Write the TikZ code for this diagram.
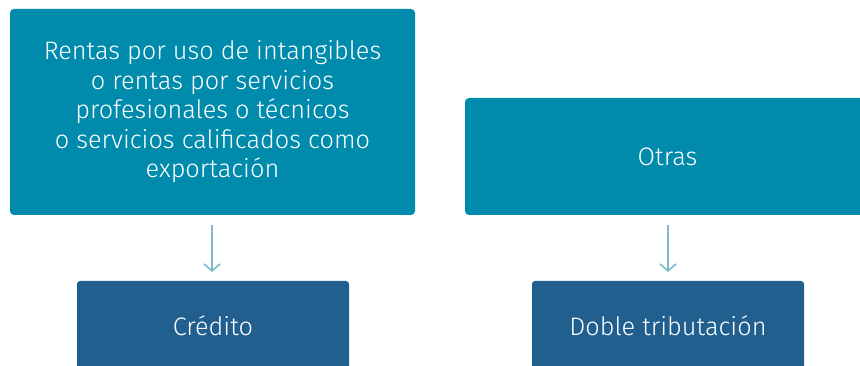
\documentclass[tikz,border=0pt]{standalone}
\usepackage{fontspec}
\setmainfont{Fira Sans Light}
\usetikzlibrary{arrows.meta, positioning}
\definecolor{tealbox}{RGB}{0,139,173}
\definecolor{bluebox}{RGB}{33,95,143}
\definecolor{arrowblue}{RGB}{125,184,204}
\tikzstyle{upper} = [fill=tealbox, text=white, rounded corners=4pt, align=center, inner sep=0pt, font=\fontsize{25.3}{29.5}\selectfont]
\tikzstyle{lower} = [fill=bluebox, text=white, rounded corners=3pt, align=center, inner sep=0pt, font=\fontsize{25.3}{29.5}\selectfont]
\tikzstyle{arrow} = [arrowblue, line width=1.6pt, -{Straight Barb[length=7pt,width=16pt]}]

\begin{document}
\begin{tikzpicture}[x=1pt, y=-1pt]
\useasboundingbox (0,0) rectangle (860,366);
\node[upper, minimum width=405pt, minimum height=206pt] (rentas) at (212.5,112)
  {Rentas por uso de intangibles\\o rentas por servicios\\profesionales o técnicos\\o servicios calificados como\\exportación};
\node[upper, minimum width=405pt, minimum height=117pt] (otras) at (667.5,156.5) {Otras};

\node[lower, minimum width=272pt, minimum height=90pt] (credito) at (213,326) {Crédito};
\node[lower, minimum width=272pt, minimum height=90pt] (doble) at (668,326) {Doble tributación};

\coordinate (a1) at (212,225);
\coordinate (a2) at (212,272);
\coordinate (b1) at (668,225);
\coordinate (b2) at (668,272);
\draw[arrow] (a1) -- (a2);
\draw[arrow] (b1) -- (b2);
\end{tikzpicture}
\end{document}
